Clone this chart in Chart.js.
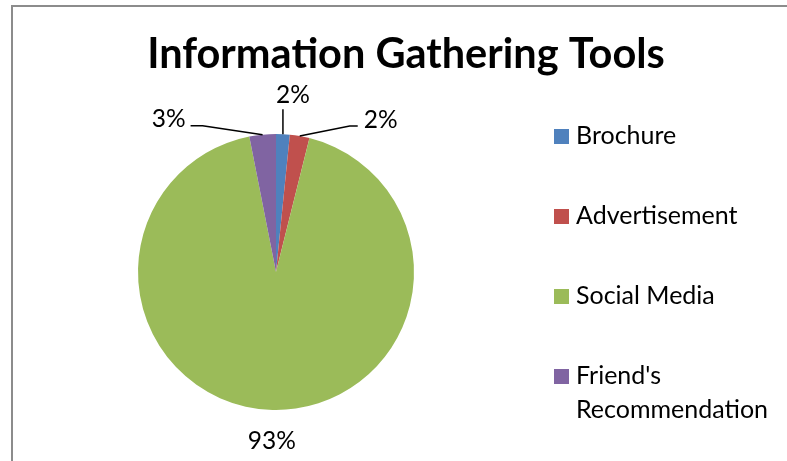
<!DOCTYPE html>
<html>
<head>
<meta charset="utf-8">
<script src="https://cdn.jsdelivr.net/npm/chart.js@4/dist/chart.umd.min.js"></script>
<style>
  html, body { margin: 0; padding: 0; background: #fff; }
  #wrap { position: relative; width: 787px; height: 461px; }
  #frame { position: absolute; left: 11px; top: 5px; right: -4px; bottom: -4px; border: 2px solid #8c8c8c; }
  canvas { position: absolute; left: 0; top: 0; }
</style>
</head>
<body>
<div id="wrap">
  <div id="frame"></div>
  <canvas id="pie" width="787" height="461"></canvas>
</div>
<script>
const chartTitle = 'Information Gathering Tools';
const categories = ['Brochure', 'Advertisement', 'Social Media', "Friend's Recommendation"];
const shares = [1.6, 2.3, 93.0, 3.1];
const sliceColors = ['#4f81bd', '#c0504d', '#9bbb59', '#8064a2'];

const FONT = "Lato, 'Open Sans', sans-serif";

// leader lines for the small slices: elbow and tail relative to the slice edge
const leaderElbow = [[0, -25], [50, -10], null, [-60, -9]];
const leaderTail = [[0, 0], [8, 0], null, [-12, 0]];
const labelShift = [[10, -14], [6, -6], [0, 0], [-5, -7]];

const titleDraw = {
    id: 'titleDraw',
    afterDraw(chart) {
        const ctx = chart.ctx;
        ctx.save();
        ctx.font = 'bold 41.5px ' + FONT;
        ctx.fillStyle = '#000';
        ctx.textAlign = 'center';
        ctx.textBaseline = 'alphabetic';
        ctx.fillText(chart.options.plugins.title.text, 406, 68, 518);
        ctx.restore();
    }
};

const pieLabels = {
    id: 'pieLabels',
    afterDatasetsDraw(chart) {
        const ctx = chart.ctx;
        const meta = chart.getDatasetMeta(0);
        const values = chart.data.datasets[0].data;
        const total = values.reduce((a, b) => a + b, 0);
        ctx.save();
        ctx.font = '24.5px ' + FONT;
        ctx.fillStyle = '#000';
        ctx.strokeStyle = '#000';
        ctx.lineWidth = 1.5;
        meta.data.forEach((arc, i) => {
            const p = arc.getProps(['x', 'y', 'startAngle', 'endAngle', 'outerRadius'], true);
            const mid = (p.startAngle + p.endAngle) / 2;
            const text = Math.round(values[i] / total * 100) + '%';
            const ex = p.x + Math.cos(mid) * p.outerRadius;
            const ey = p.y + Math.sin(mid) * p.outerRadius;
            ctx.textBaseline = 'middle';
            if (leaderElbow[i]) {
                const bx = ex + leaderElbow[i][0], by = ey + leaderElbow[i][1];
                const tx = bx + leaderTail[i][0], ty = by + leaderTail[i][1];
                ctx.beginPath();
                ctx.moveTo(ex, ey);
                ctx.lineTo(bx, by);
                ctx.lineTo(tx, ty);
                ctx.stroke();
                const dx = labelShift[i][0];
                ctx.textAlign = dx > 8 ? 'center' : (dx > 0 ? 'left' : 'right');
                ctx.fillText(text, tx + dx, ty + labelShift[i][1]);
            } else {
                ctx.textAlign = 'center';
                const r = p.outerRadius + 31;
                ctx.fillText(text, p.x + Math.cos(mid) * r, p.y + Math.sin(mid) * r);
            }
        });
        ctx.restore();
    }
};

const sideLegend = {
    id: 'sideLegend',
    afterDraw(chart) {
        const ctx = chart.ctx;
        const colors = chart.data.datasets[0].backgroundColor;
        const left = chart.chartArea.right + 140;
        const maxW = chart.width - left - 10;
        ctx.save();
        ctx.font = '25px ' + FONT;
        ctx.textBaseline = 'middle';
        ctx.textAlign = 'left';
        chart.data.labels.forEach((label, i) => {
            const y = 136 + i * 80;
            ctx.fillStyle = colors[i];
            ctx.fillRect(left, y - 7, 15, 15);
            ctx.fillStyle = '#000';
            // wrap long labels
            const words = label.split(' ');
            let line = '', ly = y;
            words.forEach(w => {
                const test = line ? line + ' ' + w : w;
                if (line && ctx.measureText(test).width > maxW) {
                    ctx.fillText(line, left + 22, ly);
                    line = w;
                    ly += 34;
                } else {
                    line = test;
                }
            });
            ctx.fillText(line, left + 22, ly);
        });
        ctx.restore();
    }
};

new Chart(document.getElementById('pie'), {
    type: 'pie',
    data: {
        labels: categories,
        datasets: [{
            data: shares,
            backgroundColor: sliceColors,
            borderWidth: 0,
            hoverOffset: 0
        }]
    },
    options: {
        responsive: false,
        animation: false,
        layout: { padding: { left: 138, right: 373, top: 134, bottom: 51 } },
        plugins: {
            legend: { display: false },
            tooltip: { enabled: false },
            title: { display: false, text: chartTitle }
        }
    },
    plugins: [pieLabels, sideLegend, titleDraw]
});
</script>
</body>
</html>
